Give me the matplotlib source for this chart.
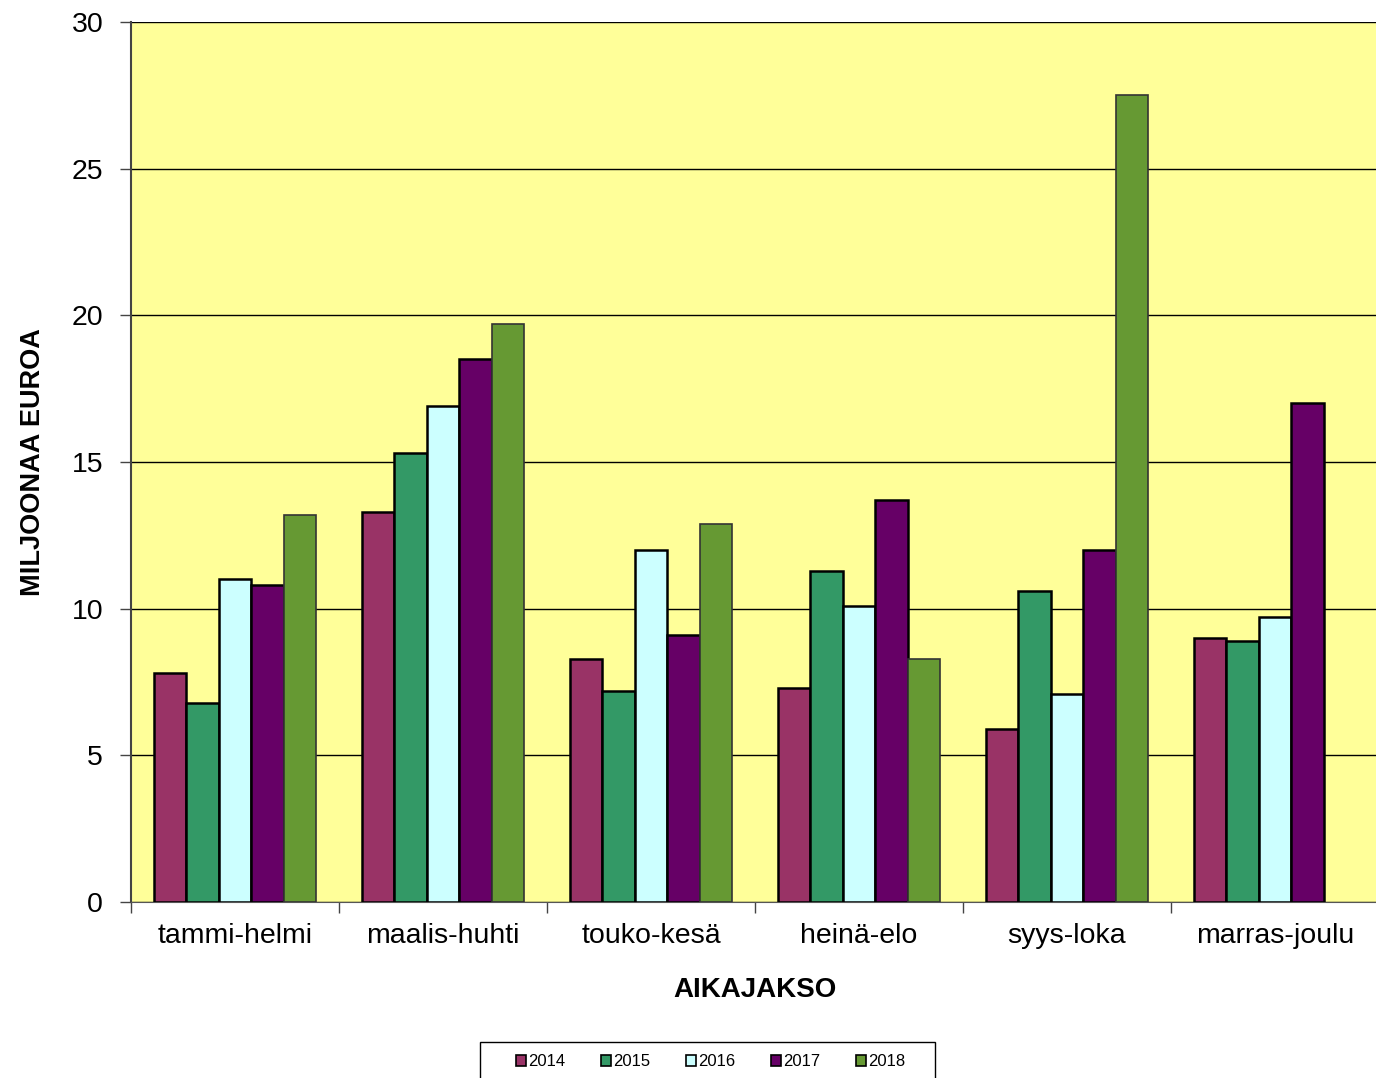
import numpy as np
import matplotlib.pyplot as plt
from matplotlib.ticker import FixedLocator
from matplotlib.patches import Rectangle

plt.rcParams['font.family'] = ['Liberation Sans', 'DejaVu Sans']

categories = ['tammi-helmi', 'maalis-huhti', 'touko-kesä', 'heinä-elo', 'syys-loka', 'marras-joulu']
years = ['2014', '2015', '2016', '2017', '2018']
v2014 = [7.8, 13.3, 8.3, 7.3, 5.9, 9.0]
v2015 = [6.8, 15.3, 7.2, 11.3, 10.6, 8.9]
v2016 = [11.0, 16.9, 12.0, 10.1, 7.1, 9.7]
v2017 = [10.8, 18.5, 9.1, 13.7, 12.0, 17.0]
v2018 = [13.2, 19.7, 12.9, 8.3, 27.5, np.nan]
series = [v2014, v2015, v2016, v2017, v2018]
colors = ['#993366', '#339966', '#CCFFFF', '#660066', '#669933']
edges = ['black', 'black', 'black', 'black', '#333333']

fig = plt.figure(figsize=(13.76, 10.78), dpi=100)
ax = fig.add_axes([131/1376, 1-902/1078, 1248/1376, 880/1078])
ax.set_facecolor('#FFFF99')

x = np.arange(len(categories))
w = 0.156
for i, vals in enumerate(series):
    ax.bar(x + (i-2)*w, vals, width=w, color=colors[i], edgecolor=edges[i],
           linewidth=1.8 if i < 4 else 1.2, label=years[i], zorder=3)

ax.set_xlim(-0.5, len(categories)-0.5)
ax.set_ylim(0, 30)
ax.set_yticks(np.arange(0, 31, 5))
ax.yaxis.grid(True, color='black', linewidth=1, zorder=1)
ax.set_xticks(x)
ax.set_xticklabels(categories, fontsize=20.5)
ax.tick_params(axis='x', which='major', length=0, pad=15)
ax.xaxis.set_minor_locator(FixedLocator(np.arange(-0.5, len(categories), 1)))
ax.tick_params(axis='x', which='minor', length=8, width=1, color='#444444')
ax.tick_params(axis='y', labelsize=20.5, length=8, width=1, color='#444444', pad=12)

for s in ['top', 'right']:
    ax.spines[s].set_visible(False)
ax.spines['left'].set_color('#444444')
ax.spines['left'].set_linewidth(1.5)
ax.spines['bottom'].set_color('#555555')

ax.set_ylabel('MILJOONAA EUROA', fontsize=19.5, fontweight='bold', labelpad=18)
ax.set_xlabel('AIKAJAKSO', fontsize=20, fontweight='bold', labelpad=20)

# legend frame, cut off at the bottom edge like the original
fig.patches.append(Rectangle((480/1376, -0.01), 455/1376, 1-1042/1078+0.01,
                             transform=fig.transFigure, facecolor='white',
                             edgecolor='black', linewidth=1, zorder=0))
leg_h = 0.06
leg = fig.legend(loc='upper left', bbox_to_anchor=(503/1376, 1-1042/1078-leg_h, 415/1376, leg_h),
                 mode='expand', ncol=5, fontsize=12, frameon=False,
                 handlelength=0.6, handleheight=0.6, handletextpad=0.15,
                 borderpad=0.75, borderaxespad=0)
for h in leg.legend_handles:
    h.set_edgecolor('black')
    h.set_linewidth(1.2)

fig.savefig('out.png', dpi=100)
